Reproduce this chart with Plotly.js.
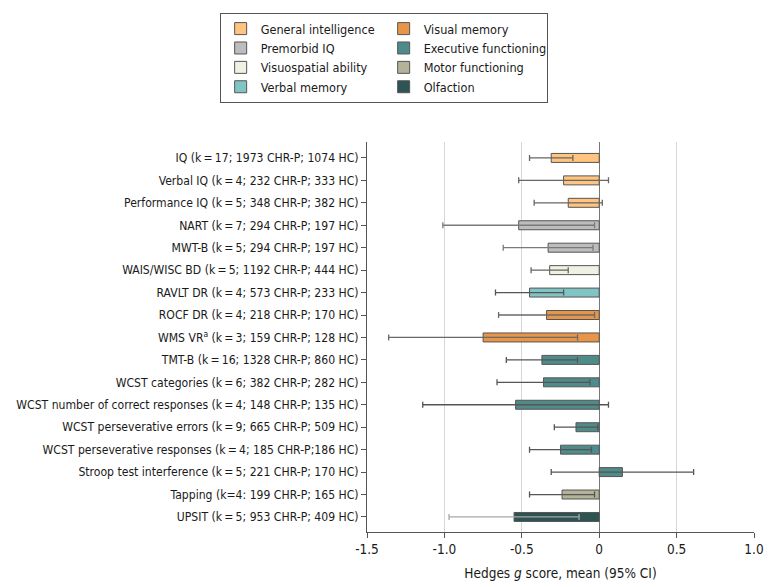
<!DOCTYPE html>
<html>
<head>
<meta charset="utf-8">
<script src="https://cdn.plot.ly/plotly-3.0.1.min.js"></script>
<style>html,body{margin:0;padding:0;background:#fff;}#chart{width:780px;height:587px;}</style>
</head>
<body>
<div id="chart"></div>
<script>
const T = '\u2009';
const categories = [
  'IQ (k' + T + '=' + T + '17; 1973 CHR-P; 1074 HC)',
  'Verbal IQ (k' + T + '=' + T + '4; 232 CHR-P; 333 HC)',
  'Performance IQ (k' + T + '=' + T + '5; 348 CHR-P; 382 HC)',
  'NART (k' + T + '=' + T + '7; 294 CHR-P; 197 HC)',
  'MWT-B (k' + T + '=' + T + '5; 294 CHR-P; 197 HC)',
  'WAIS/WISC BD (k' + T + '=' + T + '5; 1192 CHR-P; 444 HC)',
  'RAVLT DR (k' + T + '=' + T + '4; 573 CHR-P; 233 HC)',
  'ROCF DR (k' + T + '=' + T + '4; 218 CHR-P; 170 HC)',
  'WMS VR<sup>a</sup> (k' + T + '=' + T + '3; 159 CHR-P; 128 HC)',
  'TMT-B (k' + T + '=' + T + '16; 1328 CHR-P; 860 HC)',
  'WCST categories (k' + T + '=' + T + '6; 382 CHR-P; 282 HC)',
  'WCST number of correct responses (k' + T + '=' + T + '4; 148 CHR-P; 135 HC)',
  'WCST perseverative errors (k' + T + '=' + T + '9; 665 CHR-P; 509 HC)',
  'WCST perseverative responses (k' + T + '=' + T + '4; 185 CHR-P;186 HC)',
  'Stroop test interference (k' + T + '=' + T + '5; 221 CHR-P; 170 HC)',
  'Tapping (k=4: 199 CHR-P; 165 HC)',
  'UPSIT (k' + T + '=' + T + '5; 953 CHR-P; 409 HC)'
];
const domains = [
  'General intelligence', 'General intelligence', 'General intelligence',
  'Premorbid IQ', 'Premorbid IQ',
  'Visuospatial ability',
  'Verbal memory',
  'Visual memory', 'Visual memory',
  'Executive functioning', 'Executive functioning', 'Executive functioning',
  'Executive functioning', 'Executive functioning', 'Executive functioning',
  'Motor functioning',
  'Olfaction'
];
const means  = [-0.31, -0.23, -0.20, -0.52, -0.33, -0.32, -0.45, -0.34, -0.75, -0.37, -0.36, -0.54, -0.15, -0.25, 0.15, -0.24, -0.55];
const ciLow  = [-0.45, -0.52, -0.42, -1.01, -0.62, -0.44, -0.67, -0.65, -1.36, -0.60, -0.66, -1.14, -0.29, -0.45, -0.31, -0.45, -0.97];
const ciHigh = [-0.17,  0.06,  0.02, -0.03, -0.04, -0.20, -0.23, -0.03, -0.14, -0.14, -0.06,  0.06, -0.01, -0.05, 0.61, -0.03, -0.13];
const legendOrder = ['General intelligence', 'Visual memory', 'Premorbid IQ', 'Executive functioning',
                     'Visuospatial ability', 'Motor functioning', 'Verbal memory', 'Olfaction'];
const domainColors = ['#FFC47F', '#E8954A', '#BDBDBD', '#4F8B89', '#F0F0E3', '#B2B398', '#80C4C4', '#2D5352'];
const errorColors  = ['#666666', '#6a6a6a', '#7a7a7a', '#555555', '#666666', '#555555', '#555555', '#a8a8a8'];
const xTicks = [-1.5, -1.0, -0.5, 0, 0.5, 1.0];
const xTickText = ['-1.5', '-1.0', '-0.5', '0', '0.5', '1.0'];

const FONT = '"DejaVu Sans Condensed", "Liberation Sans Narrow", "Roboto", sans-serif';

const traces = legendOrder.map((name, gi) => {
  const idx = [];
  domains.forEach((d, i) => { if (d === name) idx.push(i); });
  return {
    type: 'bar',
    orientation: 'h',
    name: name,
    y: idx.map(i => categories[i]),
    x: idx.map(i => means[i]),
    base: 0,
    marker: { color: domainColors[gi], line: { color: '#555555', width: 1 } },
    error_x: {
      type: 'data', symmetric: false,
      array: idx.map(i => ciHigh[i] - means[i]),
      arrayminus: idx.map(i => means[i] - ciLow[i]),
      color: errorColors[gi], thickness: 1.3, width: 3
    },
    hoverinfo: 'x+y'
  };
});

const layout = {
  width: 780, height: 587,
  margin: { l: 367, r: 26, t: 142, b: 55 },
  paper_bgcolor: '#ffffff', plot_bgcolor: '#ffffff',
  font: { family: FONT, size: 13, color: '#1a1a1a' },
  barmode: 'overlay',
  bargap: 0.6,
  showlegend: true,
  legend: {
    orientation: 'h',
    x: 0.043, xanchor: 'center',
    y: 1.331, yanchor: 'top',
    entrywidth: 118, entrywidthmode: 'pixels',
    bordercolor: '#555555', borderwidth: 1,
    bgcolor: '#ffffff',
    font: { family: FONT, size: 12.6, color: '#1a1a1a' },
    traceorder: 'normal'
  },
  xaxis: {
    range: [-1.5, 1.0],
    tickvals: xTicks, ticktext: xTickText,
    showgrid: true, gridcolor: '#d6d6d6', gridwidth: 1,
    zeroline: true, zerolinecolor: '#777777', zerolinewidth: 1.2,
    showline: true, linecolor: '#555555', linewidth: 1,
    ticks: 'outside', ticklen: 5, tickcolor: '#555555',
    tickfont: { family: FONT, size: 13.5, color: '#1a1a1a' },
    title: { text: 'Hedges <i>g</i> score, mean (95% CI)', font: { family: FONT, size: 13.5, color: '#1a1a1a' }, standoff: 12 },
    fixedrange: true
  },
  yaxis: {
    type: 'category',
    categoryorder: 'array', categoryarray: categories,
    range: [16.67, -0.71],
    showgrid: false, zeroline: false,
    showline: true, linecolor: '#555555', linewidth: 1,
    ticks: 'outside', ticklen: 5, tickcolor: '#555555',
    tickfont: { family: FONT, size: 12.1, color: '#1a1a1a' },
    fixedrange: true
  }
};

Plotly.newPlot('chart', traces, layout, { displayModeBar: false, staticPlot: true });
</script>
</body>
</html>
